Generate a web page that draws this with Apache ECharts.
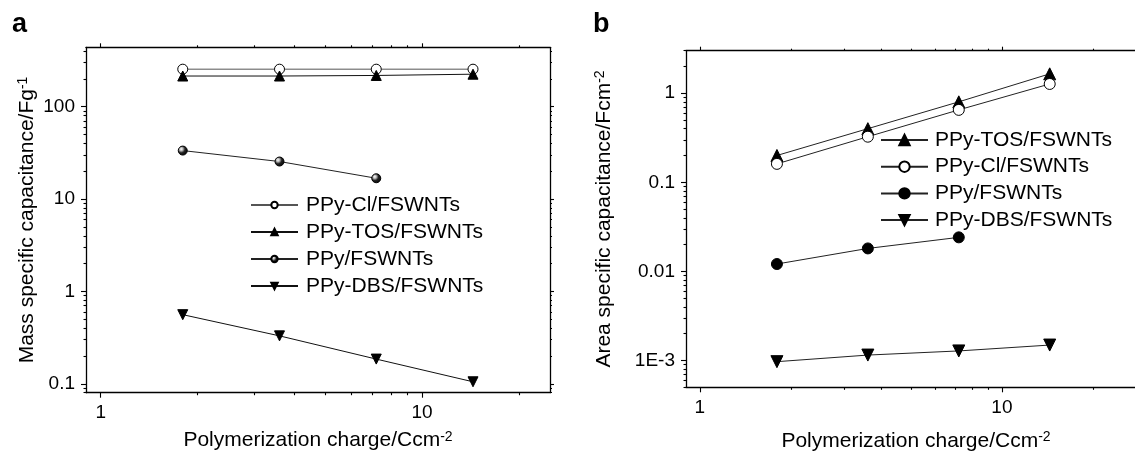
<!DOCTYPE html>
<html>
<head>
<meta charset="utf-8">
<script src="https://cdn.jsdelivr.net/npm/echarts@6/dist/echarts.min.js"></script>
<style>
  html, body { margin: 0; padding: 0; background: #fff; }
  #chart { width: 1135px; height: 452px; }
</style>
</head>
<body>
<div id="chart"></div>
<script>
// polymerization charge, C cm-2 (same for both panels)
const charge = [1.8, 3.6, 7.2, 14.4];

// panel a: mass specific capacitance, F g-1
const massCl = [255, 255, 255, 255];
const massTos = [215, 215, 218, 225];
const massPpy = [33.5, 25.5, 16.8];
const massDbs = [0.56, 0.33, 0.185, 0.105];

// panel b: area specific capacitance, F cm-2
const areaTos = [0.2, 0.4, 0.8, 1.65];
const areaCl = [0.161, 0.325, 0.65, 1.27];
const areaPpy = [0.0121, 0.0181, 0.0241];
const areaDbs = [0.00097, 0.00115, 0.00128, 0.00149];

// tick values + labels
const xMajor = [1, 10];
const xLabels = ['1', '10'];
const xMinor = [2, 3, 4, 5, 6, 7, 8, 9, 20];
const yMajorA = [0.1, 1, 10, 100];
const yLabelsA = ['0.1', '1', '10', '100'];
const yMinorA = [0.08, 0.09, 0.2, 0.3, 0.4, 0.5, 0.6, 0.7, 0.8, 0.9, 2, 3, 4, 5, 6, 7, 8, 9,
  20, 30, 40, 50, 60, 70, 80, 90, 200, 300, 400];
const yMajorB = [0.001, 0.01, 0.1, 1];
const yLabelsB = ['1E-3', '0.01', '0.1', '1'];
const yMinorB = [0.0005, 0.0006, 0.0007, 0.0008, 0.0009, 0.002, 0.003, 0.004, 0.005, 0.006,
  0.007, 0.008, 0.009, 0.02, 0.03, 0.04, 0.05, 0.06, 0.07, 0.08, 0.09, 0.2, 0.3, 0.4, 0.5,
  0.6, 0.7, 0.8, 0.9, 2, 3];

const FONT = '"Liberation Sans", Arial, Helvetica, sans-serif';
const BLACK = '#000';

function pickLabel(ticks, labels) {
  return (v) => {
    const i = ticks.findIndex((t) => Math.abs(Math.log10(t) - Math.log10(v)) < 1e-6);
    return i < 0 ? '' : labels[i];
  };
}

function richName(main, sup) {
  return {
    name: `{t|${main}}{s|${sup}}`,
    nameTextStyle: {
      color: BLACK,
      fontFamily: FONT,
      rich: {
        t: { fontSize: 21, lineHeight: 22, fontFamily: FONT, color: BLACK },
        s: { fontSize: 14, verticalAlign: 'top', fontFamily: FONT, color: BLACK },
      },
    },
  };
}

// 4 axes per direction per grid: main (labels, major ticks), minor ticks, mirrored side, mirrored minor
function makeAxes(dim, gridIndex, min, max, major, minor, labels, nameOpt, nameGap) {
  const near = dim === 'x' ? 'bottom' : 'left';
  const far = dim === 'x' ? 'top' : 'right';
  const base = {
    type: 'log',
    logBase: 10,
    gridIndex,
    min,
    max,
    splitLine: { show: false },
    minorTick: { show: false },
    nameMoveOverlap: false,
  };
  const lineOn = { show: true, onZero: false, lineStyle: { color: BLACK, width: 1.3 } };
  const lineOff = { show: false, onZero: false };
  const tick = (vals, len) => ({
    show: true, inside: false, length: len, customValues: vals,
    lineStyle: { color: BLACK, width: 1.1 },
  });
  return [
    {
      ...base,
      position: near,
      axisLine: lineOn,
      axisTick: tick(major, 5),
      axisLabel: {
        show: true,
        customValues: major,
        margin: 11,
        fontSize: 19,
        color: BLACK,
        fontFamily: FONT,
        formatter: pickLabel(major, labels),
      },
      ...nameOpt,
      nameLocation: 'middle',
      nameGap,
      nameRotate: dim === 'x' ? 0 : 90,
    },
    { ...base, position: near, axisLine: lineOff, axisTick: tick(minor, 2.5), axisLabel: { show: false } },
    { ...base, position: far, axisLine: lineOn, axisTick: tick(major, 4), axisLabel: { show: false } },
    { ...base, position: far, axisLine: lineOff, axisTick: tick(minor, 2), axisLabel: { show: false } },
  ];
}

// half-lit ball marker of PPy/FSWNTs in panel a
const sphere = {
  type: 'radial', x: 0.35, y: 0.35, r: 0.75,
  colorStops: [
    { offset: 0, color: '#ffffff' },
    { offset: 0.22, color: '#bbb' },
    { offset: 0.5, color: '#222' },
    { offset: 1, color: '#000' },
  ],
};

function line(prefix, name, axisIdx, xs, ys, symbol, size, fill, lineColor, rotate) {
  return {
    type: 'line',
    name: `${prefix}|${name}`,
    xAxisIndex: axisIdx,
    yAxisIndex: axisIdx,
    data: ys.map((y, i) => [xs[i], y]),
    symbol,
    symbolSize: size,
    symbolRotate: rotate || 0,
    itemStyle: { color: fill, borderColor: BLACK, borderWidth: 1 },
    lineStyle: { color: lineColor, width: 1 },
    emphasis: { disabled: true },
  };
}

const chart = echarts.init(document.getElementById('chart'), null, { renderer: 'canvas' });

const legendBase = {
  orient: 'vertical',
  padding: 0,
  itemWidth: 47,
  selectedMode: false,
  formatter: (n) => n.split('|')[1],
};

chart.setOption({
  animation: false,
  backgroundColor: '#fff',
  title: [
    { text: 'a', left: 12, top: 11, padding: 0, textStyle: { fontSize: 27, fontWeight: 'bold', color: BLACK, fontFamily: FONT } },
    { text: 'b', left: 593, top: 11, padding: 0, textStyle: { fontSize: 27, fontWeight: 'bold', color: BLACK, fontFamily: FONT } },
  ],
  grid: [
    { left: 86, top: 47.3, width: 464, height: 345.4, outerBoundsMode: 'none', containLabel: false },
    { left: 686, top: 50.7, width: 460, height: 336.6, outerBoundsMode: 'none', containLabel: false },
  ],
  xAxis: [
    ...makeAxes('x', 0, 0.9, 25, xMajor, xMinor, xLabels,
      richName('Polymerization charge/Ccm', '-2'), 37),
    ...makeAxes('x', 1, 0.9, 30, xMajor, xMinor, xLabels,
      richName('Polymerization charge/Ccm', '-2'), 43),
  ],
  yAxis: [
    ...makeAxes('y', 0, 0.08, 440, yMajorA, yMinorA, yLabelsA,
      richName('Mass specific capacitance/Fg', '-1'), 48),
    ...makeAxes('y', 1, 0.0005, 3, yMajorB, yMinorB, yLabelsB,
      richName('Area specific capacitance/Fcm', '-2'), 71),
  ],
  legend: [
    {
      ...legendBase,
      left: 250,
      top: 194.5,
      itemHeight: 8,
      itemGap: 6,
      textStyle: { fontSize: 21, color: BLACK, fontFamily: FONT, padding: [0, 0, 0, 3] },
      data: ['a|PPy-Cl/FSWNTs', 'a|PPy-TOS/FSWNTs', 'a|PPy/FSWNTs', 'a|PPy-DBS/FSWNTs'],
    },
    {
      ...legendBase,
      left: 880,
      top: 129.5,
      itemHeight: 13,
      itemGap: 5.7,
      textStyle: { fontSize: 21, color: BLACK, fontFamily: FONT, padding: [0, 0, 0, 2] },
      data: ['b|PPy-TOS/FSWNTs', 'b|PPy-Cl/FSWNTs', 'b|PPy/FSWNTs', 'b|PPy-DBS/FSWNTs'],
    },
  ],
  series: [
    line('a', 'PPy-Cl/FSWNTs', 0, charge, massCl, 'circle', 10, '#fff', '#555'),
    line('a', 'PPy-TOS/FSWNTs', 0, charge, massTos, 'triangle', 10, BLACK, '#111'),
    line('a', 'PPy/FSWNTs', 0, charge, massPpy, 'circle', 9, sphere, '#222'),
    line('a', 'PPy-DBS/FSWNTs', 0, charge, massDbs, 'triangle', 10, BLACK, '#111', 180),
    line('b', 'PPy-TOS/FSWNTs', 4, charge, areaTos, 'triangle', 12, BLACK, '#222'),
    line('b', 'PPy-Cl/FSWNTs', 4, charge, areaCl, 'circle', 11, '#fff', '#222'),
    line('b', 'PPy/FSWNTs', 4, charge, areaPpy, 'circle', 11, BLACK, '#222'),
    line('b', 'PPy-DBS/FSWNTs', 4, charge, areaDbs, 'triangle', 12, BLACK, '#222', 180),
  ],
});
</script>
</body>
</html>
